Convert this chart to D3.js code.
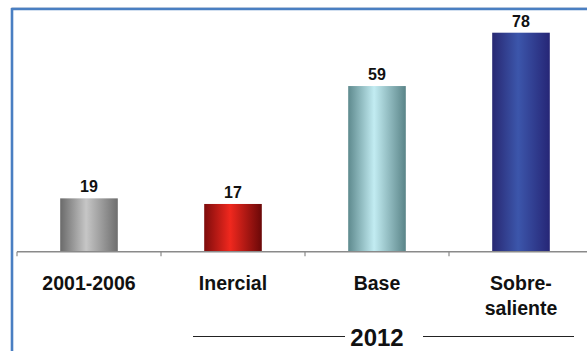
<!DOCTYPE html>
<html><head><meta charset="utf-8">
<script src="https://cdn.jsdelivr.net/npm/d3@7"></script>
<style>html,body{margin:0;padding:0;background:#fff;overflow:hidden}</style>
</head><body><svg id="c" width="587" height="351"></svg>
<script>
const categories = ["2001-2006", "Inercial", "Base", "Sobre-\nsaliente"];
const values = [19, 17, 59, 78];
const groupLabel = "2012";
const gradients = [
  ["#6a6a6a", "#c6c6c6", "#6e6e6e"],
  ["#7e0c0c", "#f0281e", "#6a0808"],
  ["#5e8a8e", "#c2ecf2", "#5a8488"],
  ["#282872", "#3c56ab", "#262676"]
];

const svg = d3.select("#c");
const W = 587, H = 351;
const x0 = 17, step = 144, baseY = 251.7;
const x = d3.scaleBand().domain(categories).range([x0, x0 + step * categories.length]).paddingInner(0.6).paddingOuter(0.3);
const y = d3.scaleLinear().domain([0, 78]).range([baseY, 32.7]);

// frame
svg.append("rect").attr("x", 11).attr("y", 7).attr("width", W).attr("height", 1.2).attr("fill", "#d6dbe4");
svg.append("line").attr("x1", 12).attr("x2", W).attr("y1", 9).attr("y2", 9).attr("stroke", "#4a7fc2").attr("stroke-width", 2.4);
svg.append("line").attr("x1", 12).attr("x2", 12).attr("y1", 8).attr("y2", H).attr("stroke", "#4a7fc2").attr("stroke-width", 2.6);

const defs = svg.append("defs");
gradients.forEach((g, i) => {
  const lg = defs.append("linearGradient").attr("id", "g" + i).attr("x1", 0).attr("x2", 1).attr("y1", 0).attr("y2", 0);
  lg.append("stop").attr("offset", "0%").attr("stop-color", g[0]);
  lg.append("stop").attr("offset", "45%").attr("stop-color", g[1]);
  lg.append("stop").attr("offset", "100%").attr("stop-color", g[2]);
});

// bars
svg.selectAll("rect.bar").data(values).join("rect").attr("class", "bar")
  .attr("x", (d, i) => x(categories[i]))
  .attr("width", x.bandwidth())
  .attr("y", d => y(d))
  .attr("height", d => baseY - y(d))
  .attr("fill", (d, i) => `url(#g${i})`);

// axis
svg.append("line").attr("x1", x0).attr("x2", W).attr("y1", baseY).attr("y2", baseY).attr("stroke", "#8a8a8a").attr("stroke-width", 1.6);
d3.range(categories.length).forEach(i => {
  const tx = x0 + step * i;
  svg.append("line").attr("x1", tx).attr("x2", tx).attr("y1", baseY).attr("y2", baseY + 4.5).attr("stroke", "#8a8a8a").attr("stroke-width", 1.2);
});

// value labels
svg.selectAll("text.val").data(values).join("text").attr("class", "val")
  .attr("x", (d, i) => x(categories[i]) + x.bandwidth() / 2)
  .attr("y", d => y(d) - 6)
  .attr("text-anchor", "middle")
  .attr("font-family", "Liberation Sans, Arial, sans-serif")
  .attr("font-weight", "bold").attr("font-size", 16).attr("fill", "#111")
  .text(d => d);

// category labels
categories.forEach((c, i) => {
  const t = svg.append("text")
    .attr("x", x(c) + x.bandwidth() / 2).attr("y", 290)
    .attr("text-anchor", "middle")
    .attr("font-family", "Liberation Sans, Arial, sans-serif")
    .attr("font-weight", "bold").attr("font-size", 19.5).attr("fill", "#111");
  c.split("\n").forEach((line, j) => {
    t.append("tspan").attr("x", x(c) + x.bandwidth() / 2).attr("dy", j === 0 ? 0 : 24.5).text(line);
  });
});

// group label
const gx = (x(categories[1]) + x(categories[3]) + x.bandwidth()) / 2;
svg.append("text").attr("x", gx).attr("y", 346).attr("text-anchor", "middle")
  .attr("font-family", "Liberation Sans, Arial, sans-serif")
  .attr("font-weight", "bold").attr("font-size", 24).attr("fill", "#111").text(groupLabel);
svg.append("line").attr("x1", 193).attr("x2", 345).attr("y1", 336.5).attr("y2", 336.5).attr("stroke", "#222").attr("stroke-width", 1.2);
svg.append("line").attr("x1", 423).attr("x2", 574).attr("y1", 336.5).attr("y2", 336.5).attr("stroke", "#222").attr("stroke-width", 1.2);
</script></body></html>
